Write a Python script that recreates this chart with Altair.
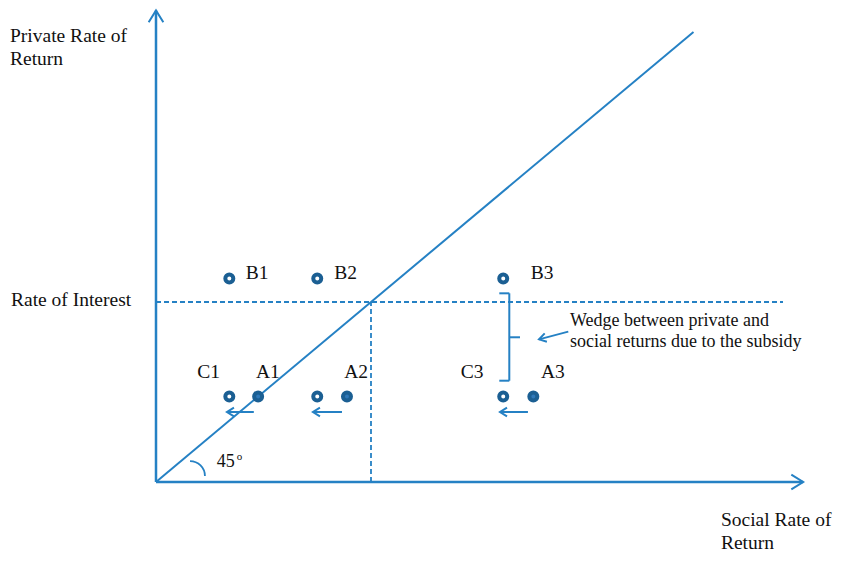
import altair as alt
import pandas as pd

# ---------------- data (conceptual units: 45-degree line is y = x) ----------------
# points
pt_label = ["C1", "A1", "C2", "A2", "C3", "A3", "B1", "B2", "B3"]
pt_x = [1.364, 1.90, 3.0, 3.553, 6.46, 7.02, 1.364, 3.0, 6.46]
pt_y = [1.90, 1.90, 1.90, 1.90, 1.90, 1.90, 4.52, 4.52, 4.52]
pt_kind = ["open", "solid", "open", "solid", "open", "solid", "open", "open", "open"]

# solid line segments: axes, 45-degree line, arrow shafts, brace
seg_x = [0, 0, 0, 1.82, 3.46, 6.92, 7.67, 6.387, 6.573, 6.387, 6.573]
seg_y = [0, 0, 0, 1.556, 1.556, 1.556, 3.34, 4.193, 4.193, 2.251, 3.216]
seg_x2 = [0, 12.04, 10.0, 1.32, 2.92, 6.40, 7.126, 6.573, 6.573, 6.573, 6.772]
seg_y2 = [10.48, 0, 10.0, 1.556, 1.556, 1.556, 3.17, 4.193, 2.251, 2.251, 3.216]
seg_w = [2.5, 2.5, 2.0, 2.0, 2.0, 2.0, 1.8, 2.0, 2.0, 2.0, 2.0]

# dashed guide lines (rate of interest = 4)
dash_x = [0, 4]
dash_y = [4, 0]
dash_x2 = [11.665, 4]
dash_y2 = [4, 4]

# arrow heads (tip position, rotation, size)
head_x = [1.32, 2.92, 6.40, 7.126, 0, 12.04]
head_y = [1.556, 1.556, 1.556, 3.17, 10.48, 0]
head_angle = [0, 0, 0, 345.3, 90, 180]
head_size = [196, 196, 196, 196, 560, 560]

# 45-degree angle arc centre
arc_x = [0.633]
arc_y = [0.133]

# texts
txt = ["Private Rate of", "Return", "Rate of Interest", "Social Rate of", "Return",
       "B1", "B2", "B3", "C1", "A1", "A2", "C3", "A3",
       "Wedge between private and", "social returns due to the subsidy", "45", "o"]
txt_x = [-2.716, -2.716, -2.698, 10.51, 10.51,
         1.669, 3.317, 6.971, 0.768, 1.860, 3.503, 5.669, 7.163,
         7.702, 7.702, 1.129, 1.501]
txt_y = [9.784, 9.267, 3.911, -0.98, -1.49,
         4.504, 4.504, 4.51, 2.304, 2.304, 2.304, 2.304, 2.304,
         3.467, 2.993, 0.340, 0.478]
txt_size = [19.5, 19.5, 19.5, 19.5, 19.5,
            19.5, 19.5, 19.5, 19.5, 19.5, 19.5, 19.5, 19.5,
            18, 18, 18, 11]

# ---------------- styling / scales ----------------
LINE = "#2581c4"
DOT = "#1b5f93"
FONT = "Liberation Serif"

W, H = 826, 546
PXX, PXY = 53.75, 45.0
X_DOMAIN = [-148 / PXX, (W - 148) / PXX]
Y_DOMAIN = [-(H - 474) / PXY, 474 / PXY]

xs = alt.Scale(domain=X_DOMAIN, nice=False, zero=False)
ys = alt.Scale(domain=Y_DOMAIN, nice=False, zero=False)

segs = pd.DataFrame({"x": seg_x, "y": seg_y, "x2": seg_x2, "y2": seg_y2, "sw": seg_w})
dashes = pd.DataFrame({"x": dash_x, "y": dash_y, "x2": dash_x2, "y2": dash_y2})
heads = pd.DataFrame({"x": head_x, "y": head_y, "angle": head_angle, "size": head_size})
pts = pd.DataFrame({"x": pt_x, "y": pt_y, "kind": pt_kind, "label": pt_label})
texts = pd.DataFrame({"t": txt, "x": txt_x, "y": txt_y, "s": txt_size})
arcd = pd.DataFrame({"x": arc_x, "y": arc_y})

X = alt.X("x:Q", scale=xs, axis=None)
Y = alt.Y("y:Q", scale=ys, axis=None)

solid = alt.Chart(segs).mark_rule(color=LINE, strokeCap="butt").encode(
    x=X, y=Y, x2="x2:Q", y2="y2:Q",
    strokeWidth=alt.StrokeWidth("sw:Q", scale=None),
)

dashed = alt.Chart(dashes).mark_rule(color=LINE, strokeWidth=1.8, strokeDash=[5, 3]).encode(
    x=X, y=Y, x2="x2:Q", y2="y2:Q",
)

arrowheads = alt.Chart(heads).mark_point(
    shape="M1,-0.62L0,0L1,0.62", filled=False, stroke=LINE, strokeWidth=2, opacity=1
).encode(
    x=X, y=Y,
    angle=alt.Angle("angle:Q", scale=None),
    size=alt.Size("size:Q", scale=None),
)

arc = alt.Chart(arcd).mark_arc(
    outerRadius=15.8, innerRadius=14.0, theta=0, theta2=1.5708, color=LINE
).encode(x=X, y=Y)

open_pts = alt.Chart(pts).transform_filter("datum.kind == 'open'").mark_point(
    shape="circle", filled=True, fill="white", stroke=DOT, strokeWidth=4, size=64, opacity=1
).encode(x=X, y=Y)

solid_pts = alt.Chart(pts).transform_filter("datum.kind == 'solid'").mark_point(
    shape="circle", filled=True, fill="#2f78b8", stroke=DOT, strokeWidth=4, size=64, opacity=1
).encode(x=X, y=Y)

labels = alt.Chart(texts).mark_text(
    font=FONT, align="left", baseline="alphabetic", color="#111111"
).encode(
    x=X, y=Y, text="t:N",
    size=alt.Size("s:Q", scale=None),
)

chart = alt.layer(solid, dashed, arrowheads, arc, open_pts, solid_pts, labels).properties(
    width=W, height=H,
    autosize=alt.AutoSizeParams(type="none"),
    padding=0,
).configure_view(stroke=None)

chart.save("out.html", embed_options={"renderer": "svg", "actions": False})
